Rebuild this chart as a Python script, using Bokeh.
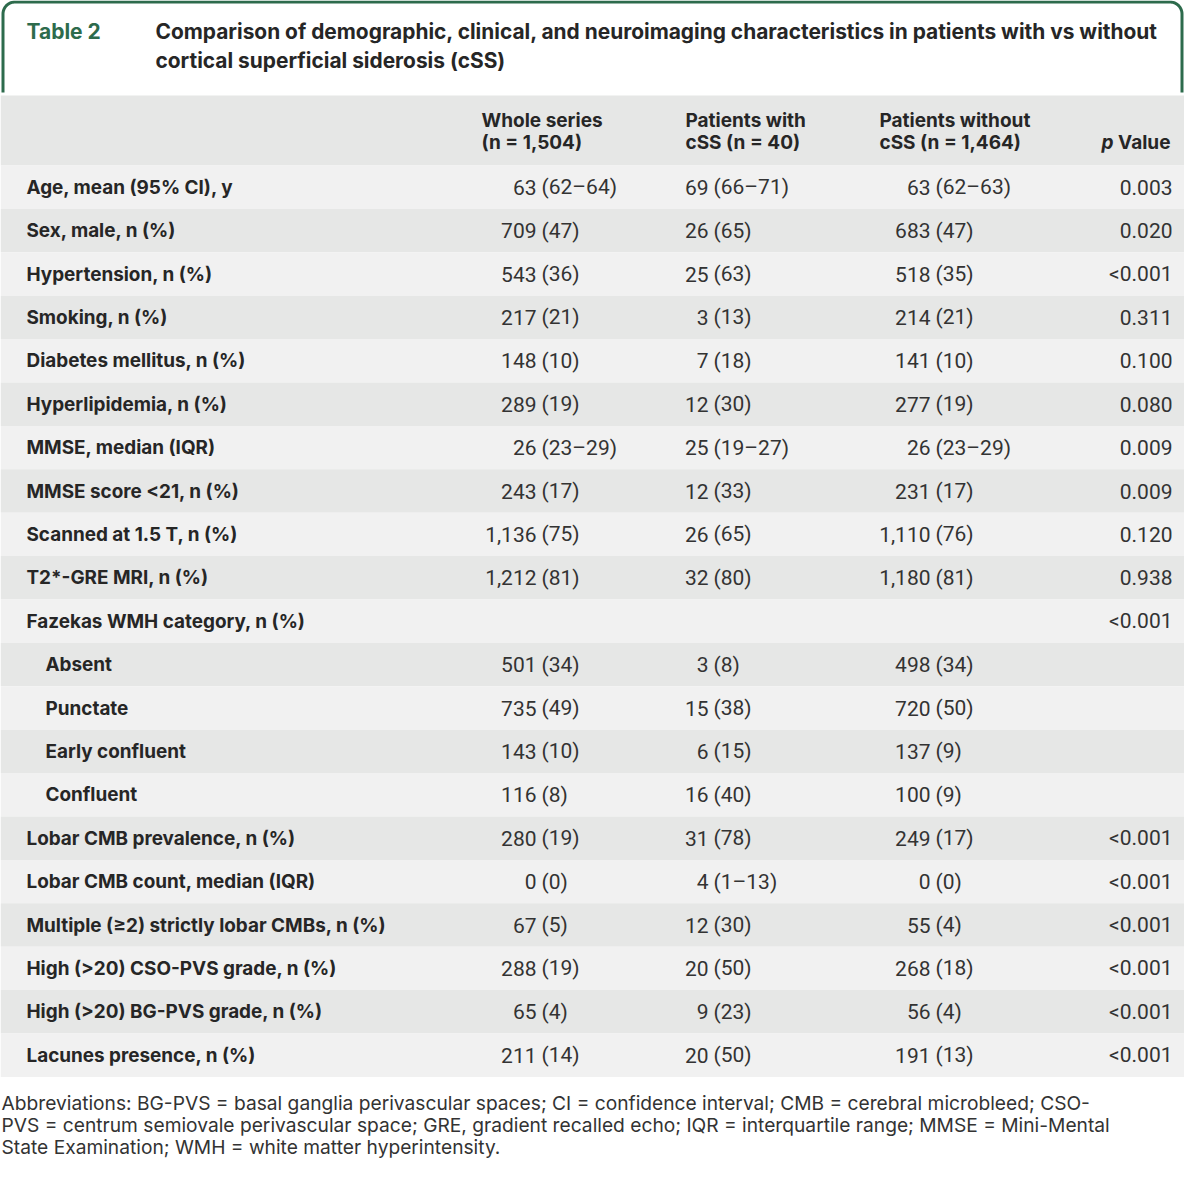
from bokeh.plotting import figure
from bokeh.models import Range1d
from bokeh.embed import file_html
from bokeh.resources import INLINE
from bokeh.core.properties import value
import numpy as np

# ---------------- data ----------------
table_tag = "Table 2"
title_lines = [
    "Comparison of demographic, clinical, and neuroimaging characteristics in patients with vs without",
    "cortical superficial siderosis (cSS)",
]
col_heads_line1 = ["Whole series", "Patients with", "Patients without"]
col_heads_line2 = ["(n = 1,504)", "cSS (n = 40)", "cSS (n = 1,464)"]
p_head_italic = "p"
p_head_rest = "Value"

labels = [
    "Age, mean (95% CI), y",
    "Sex, male, n (%)",
    "Hypertension, n (%)",
    "Smoking, n (%)",
    "Diabetes mellitus, n (%)",
    "Hyperlipidemia, n (%)",
    "MMSE, median (IQR)",
    "MMSE score <21, n (%)",
    "Scanned at 1.5 T, n (%)",
    "T2*-GRE MRI, n (%)",
    "Fazekas WMH category, n (%)",
    "Absent",
    "Punctate",
    "Early confluent",
    "Confluent",
    "Lobar CMB prevalence, n (%)",
    "Lobar CMB count, median (IQR)",
    "Multiple (\u22652) strictly lobar CMBs, n (%)",
    "High (>20) CSO-PVS grade, n (%)",
    "High (>20) BG-PVS grade, n (%)",
    "Lacunes presence, n (%)",
]
sub_rows = ["Absent", "Punctate", "Early confluent", "Confluent"]

whole_series = [
    "63 (62\u201364)", "709 (47)", "543 (36)", "217 (21)", "148 (10)", "289 (19)",
    "26 (23\u201329)", "243 (17)", "1,136 (75)", "1,212 (81)", "",
    "501 (34)", "735 (49)", "143 (10)", "116 (8)",
    "280 (19)", "0 (0)", "67 (5)", "288 (19)", "65 (4)", "211 (14)",
]
with_css = [
    "69 (66\u201371)", "26 (65)", "25 (63)", "3 (13)", "7 (18)", "12 (30)",
    "25 (19\u201327)", "12 (33)", "26 (65)", "32 (80)", "",
    "3 (8)", "15 (38)", "6 (15)", "16 (40)",
    "31 (78)", "4 (1\u201313)", "12 (30)", "20 (50)", "9 (23)", "20 (50)",
]
without_css = [
    "63 (62\u201363)", "683 (47)", "518 (35)", "214 (21)", "141 (10)", "277 (19)",
    "26 (23\u201329)", "231 (17)", "1,110 (76)", "1,180 (81)", "",
    "498 (34)", "720 (50)", "137 (9)", "100 (9)",
    "249 (17)", "0 (0)", "55 (4)", "268 (18)", "56 (4)", "191 (13)",
]
p_values = [
    "0.003", "0.020", "<0.001", "0.311", "0.100", "0.080",
    "0.009", "0.009", "0.120", "0.938", "<0.001",
    "", "", "", "",
    "<0.001", "<0.001", "<0.001", "<0.001", "<0.001", "<0.001",
]
footnote_lines = [
    "Abbreviations: BG-PVS = basal ganglia perivascular spaces; CI = confidence interval; CMB = cerebral microbleed; CSO-",
    "PVS = centrum semiovale perivascular space; GRE, gradient recalled echo; IQR = interquartile range; MMSE = Mini-Mental",
    "State Examination; WMH = white matter hyperintensity.",
]

# ---------------- styling / layout ----------------
GREEN = "#2d6b4c"
DARK = "#262626"
TXT = "#333333"
BAND_DARK = "#e6e7e6"
BAND_LIGHT = "#f1f1f1"
FONT = value("Inter")
NUMFONT = value("Roboto")

W, H = 1184, 1162
p = figure(width=W, height=H, output_backend="svg", toolbar_location=None,
           x_range=Range1d(0, W), y_range=Range1d(H, 0),
           min_border=0, outline_line_color=None, background_fill_color="white",
           border_fill_color="white")
p.axis.visible = False
p.grid.visible = False

# title box border (rounded top corners)
r = 12
left_x, right_x, top_y, bot_y = 2.5, 1181.5, 1.5, 92
t = np.linspace(0, np.pi / 2, 20)
xs = ([left_x, left_x] + list(left_x + r - r * np.cos(t)) +
      list(right_x - r + r * np.sin(t)) + [right_x, right_x])
ys = ([bot_y, top_y + r] + list(top_y + r - r * np.sin(t)) +
      list(top_y + r - r * np.cos(t)) + [top_y + r, bot_y])
p.line(xs, ys, line_color=GREEN, line_width=3)

# title texts
p.text(x=[26], y=[31], text=[table_tag], text_color=GREEN, text_font=FONT,
       text_font_size="21px", text_font_style="bold", text_baseline="middle")
p.text(x=[155] * 2, y=[31, 60], text=title_lines, text_color=DARK, text_font=FONT,
       text_font_size="20.9px", text_font_style="bold", text_baseline="middle")

# header band
n = len(labels)
row_top0, row_h = 165.0, 43.4
p.quad(left=[0], right=[W], top=[95], bottom=[row_top0], fill_color=BAND_DARK, line_color=None)

col_x = [481, 685, 879]
p.text(x=col_x, y=[120] * 3, text=col_heads_line1, text_color=DARK, text_font=FONT,
       text_font_size="19px", text_font_style="bold", text_baseline="middle")
p.text(x=col_x, y=[142] * 3, text=col_heads_line2, text_color=DARK, text_font=FONT,
       text_font_size="19px", text_font_style="bold", text_baseline="middle")
p.text(x=[1170], y=[142], text=[p_head_rest], text_color=DARK, text_font=FONT,
       text_font_size="19px", text_font_style="bold", text_baseline="middle", text_align="right")
p.text(x=[1113], y=[142], text=[p_head_italic], text_color=DARK, text_font=FONT,
       text_font_size="19px", text_font_style="bold italic", text_baseline="middle", text_align="right")

# row bands
idx = np.arange(n)
tops = row_top0 + idx * row_h
bots = tops + row_h
cols = [BAND_LIGHT if i % 2 == 0 else BAND_DARK for i in idx]
p.quad(left=0, right=W, top=tops, bottom=bots, fill_color=cols, line_color=None)
yc = list(tops + row_h / 2)

# row labels
lx = [45 if lab in sub_rows else 26 for lab in labels]
p.text(x=lx, y=yc, text=labels, text_color=DARK, text_font=FONT,
       text_font_size="18.9px", text_font_style="bold", text_baseline="middle")

# value columns: number right-aligned at anchor, bracket part left-aligned after it
anchors = [536, 708, 930]
for vals, ax in zip([whole_series, with_css, without_css], anchors):
    nums, rests, ys_ = [], [], []
    for v, y in zip(vals, yc):
        if not v:
            continue
        a, b = v.split(" ", 1)
        nums.append(a)
        rests.append(b)
        ys_.append(y)
    p.text(x=[ax] * len(nums), y=ys_, text=nums, text_color=TXT, text_font=NUMFONT,
           text_font_size="21px", text_baseline="middle", text_align="right")
    p.text(x=[ax + 5] * len(rests), y=ys_, text=rests, text_color=TXT, text_font=NUMFONT,
           text_font_size="21px", text_baseline="middle", text_align="left")

pv_y = [y for v, y in zip(p_values, yc) if v]
pv_t = [v for v in p_values if v]
p.text(x=[1172] * len(pv_t), y=pv_y, text=pv_t, text_color=TXT, text_font=NUMFONT,
       text_font_size="21px", text_baseline="middle", text_align="right")

# footnote
p.text(x=[1] * 3, y=[1102, 1124.5, 1146], text=footnote_lines, text_color=TXT, text_font=FONT,
       text_font_size="19.2px", text_baseline="middle")

open("out.html", "w").write(file_html(p, INLINE))
